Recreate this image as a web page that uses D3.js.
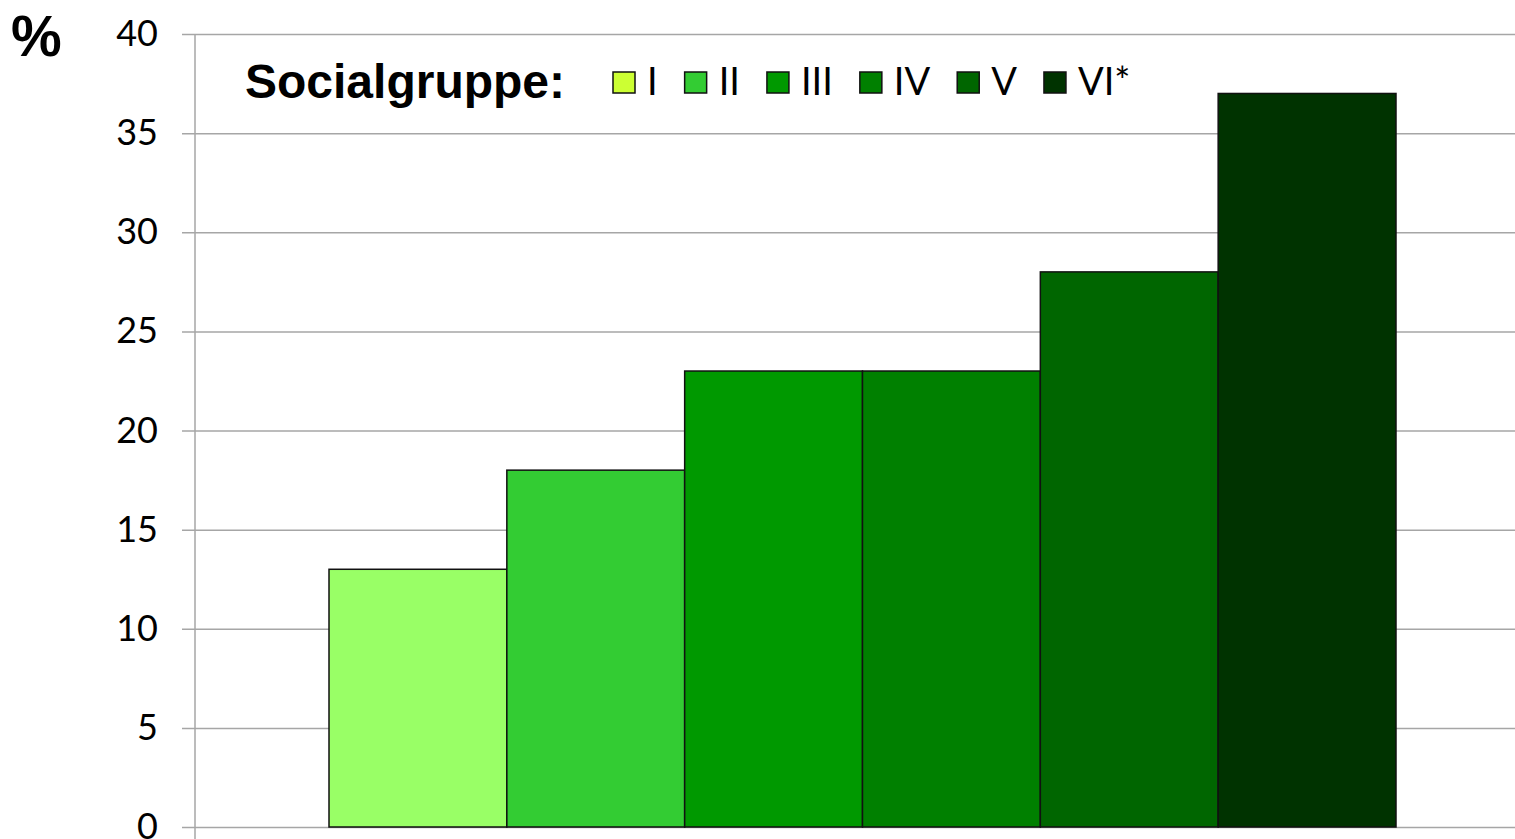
<!DOCTYPE html>
<html>
  <head>
    <script src="https://d3js.org/d3.v7.min.js"></script>
    <style>
      body { margin: 0; background: #fff; }
      .tick text { font-family: Lato, "Open Sans", sans-serif; font-size: 36px; fill: #000; }
      .tick line { stroke: #a6a6a6; stroke-width: 1.5; }
    </style>
  </head>
  <body>
    <script>
      var width = 1515;
      var height = 839;

      var groups = ["I", "II", "III", "IV", "V", "VI*"];
      var values = [13, 18, 23, 23, 28, 37];
      var barColors = ["#99ff66", "#33cc33", "#009900", "#008000", "#006600", "#003300"];
      var legendColors = ["#ccff33", "#33cc33", "#009900", "#008000", "#006600", "#003300"];
      var yTicks = [0, 5, 10, 15, 20, 25, 30, 35, 40];

      var svg = d3.select("body")
        .append("svg")
        .attr("width", width)
        .attr("height", height);

      var xScale = d3.scaleBand()
        .domain(groups)
        .range([329, 1396])
        .padding(0);

      var yScale = d3.scaleLinear()
        .domain([0, 40])
        .range([827, 34]);

      // grid + tick labels
      var yAxis = svg.append("g")
        .attr("transform", "translate(182,0)")
        .call(d3.axisLeft(yScale)
          .tickValues(yTicks)
          .tickSize(-(width - 182))
          .tickPadding(24));
      yAxis.select(".domain").remove();

      // vertical axis line
      svg.append("line")
        .attr("x1", 195).attr("x2", 195)
        .attr("y1", yScale(40)).attr("y2", height)
        .attr("stroke", "#a6a6a6")
        .attr("stroke-width", 1.5);

      svg.selectAll("rect.bar")
        .data(values)
        .enter()
        .append("rect")
          .attr("class", "bar")
          .attr("x", function(d, i) { return xScale(groups[i]); })
          .attr("y", function(d) { return yScale(d); })
          .attr("width", xScale.bandwidth())
          .attr("height", function(d) { return yScale(0) - yScale(d); })
          .attr("fill", function(d, i) { return barColors[i]; })
          .attr("stroke", "#111")
          .attr("stroke-width", 1.5);

      svg.append("text")
        .attr("x", 11)
        .attr("y", 56)
        .style("font-family", "'Liberation Sans', Arial, sans-serif")
        .style("font-weight", "bold")
        .style("font-size", "57px")
        .text("%");

      svg.append("text")
        .attr("x", 245)
        .attr("y", 98)
        .style("font-family", "'Liberation Sans', Arial, sans-serif")
        .style("font-weight", "bold")
        .style("font-size", "48px")
        .text("Socialgruppe:");

      // legend
      var lx = 613;
      groups.forEach(function(g, i) {
        svg.append("rect")
          .attr("x", lx).attr("y", 72)
          .attr("width", 22).attr("height", 21)
          .attr("fill", legendColors[i])
          .attr("stroke", "#111")
          .attr("stroke-width", 1.5);
        var t = svg.append("text")
          .attr("x", lx + 34)
          .attr("y", 95)
          .style("font-family", "Lato, sans-serif")
          .style("font-size", "38px")
          .text(g);
        lx = lx + 34 + t.node().getComputedTextLength() + 27;
      });
    </script>
  </body>
</html>
